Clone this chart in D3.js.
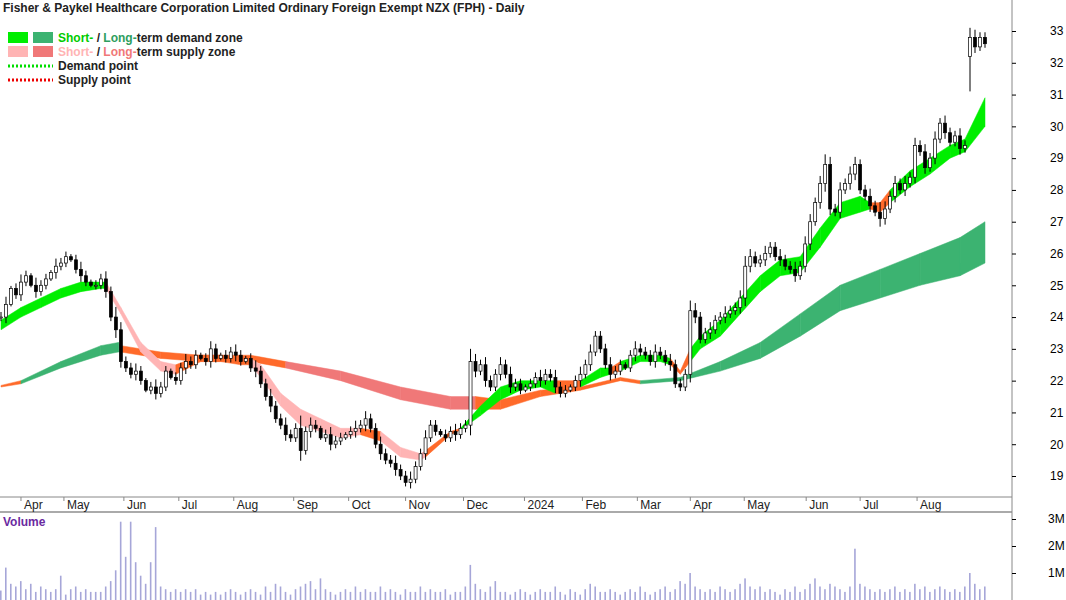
<!DOCTYPE html>
<html><head><meta charset="utf-8">
<script src="https://cdn.jsdelivr.net/npm/d3@7"></script>
<style>body{margin:0;background:#fff}text{font-family:Arial,"Liberation Sans",sans-serif}</style>
</head><body><svg id="c" width="1066" height="600"></svg>
<script>
// closes, one bar every ~2 trading days
var closes = [24.0,24.4,24.9,24.7,25.1,25.3,25.0,24.8,25.0,25.2,25.4,25.6,25.7,25.9,25.8,25.5,25.3,25.1,25.0,25.0,25.2,
 24.8,24.0,23.6,22.6,22.4,22.2,22.3,22.0,21.7,21.8,21.6,21.8,22.3,22.1,22.0,22.4,22.6,22.5,22.8,22.7,
 22.6,23.0,22.7,22.8,22.7,22.9,22.8,22.6,22.7,22.4,22.3,21.9,21.5,21.2,20.8,20.6,20.3,20.2,20.5,19.8,
 20.4,20.6,20.5,20.2,20.3,20.0,20.1,20.2,20.3,20.4,20.5,20.6,20.8,20.5,20.0,19.7,19.5,19.4,19.2,19.0,
 18.8,18.9,19.3,19.7,20.2,20.6,20.4,20.3,20.2,20.4,20.3,20.5,20.6,22.6,22.3,22.5,22.0,21.8,22.2,22.5,
 22.2,21.8,21.9,21.7,21.8,21.9,22.1,22.0,22.2,22.1,21.8,21.6,21.7,21.8,22.0,22.2,22.5,22.9,23.4,23.0,
 22.5,22.2,22.3,22.5,22.4,22.8,23.0,22.9,22.8,22.6,22.9,22.8,22.6,22.5,21.9,21.8,22.2,24.2,24.0,23.3,
 23.5,23.6,23.9,24.0,24.1,24.2,24.3,24.6,25.6,25.9,25.7,25.8,26.0,26.2,25.9,25.8,25.6,25.5,25.3,25.6,
 26.3,27.0,27.6,28.2,28.8,27.4,27.3,28.0,28.2,28.5,28.8,28.0,27.8,27.5,27.3,27.1,27.4,27.8,28.2,28.0,
 28.2,28.4,29.4,29.2,28.7,29.0,29.6,30.1,29.8,29.5,29.7,29.3,29.4,32.8,32.5,32.8,32.6];
var wicks = [2,3,1,2,3,2,1,3,2,2,1,3,2,2,1,2,3,2,1,2,2, 3,2,4,3,2,2,3,2,1,2,3,2,2,1,2,2,3,2,2,1,
 2,3,2,1,2,2,3,2,1,2,3,2,2,3,2,2,3,2,2,5, 2,3,2,1,2,3,2,2,1,2,3,2,3,2,2,3,2,2,3,2,
 2,3,2,2,3,2,2,1,2,2,3,2,2,5,3,2,3,2,2,3, 2,3,2,2,1,2,2,3,2,2,3,2,2,1,2,3,2,3,2,2,
 2,3,2,2,1,2,3,2,2,2,3,2,2,3,2,2,2,4,3,2, 2,3,2,2,3,2,2,3,4,3,2,2,3,2,2,3,2,2,3,2,
 3,3,2,3,4,3,2,3,2,3,3,2,2,3,2,4,3,2,3,2, 3,2,3,2,3,2,3,2,3,2,2,3,2,2,3,2,2];
// gap bar after the August result: [bar index, open, high, low]
var gapBars = [[194,32.2,33.1,31.1]];
var volumes = [0.35,1.2,0.6,0.5,0.7,0.4,0.6,0.3,0.5,0.4,0.3,0.4,0.9,0.2,0.4,0.5,0.3,0.4,0.3,0.3,0.3,
 0.5,0.7,1.1,2.9,1.6,2.9,1.4,0.9,0.6,1.4,2.7,0.5,0.4,0.3,0.4,0.3,0.4,0.3,0.4,0.2,
 0.3,0.2,0.3,0.2,0.3,0.4,0.3,0.2,0.3,0.4,0.3,0.2,0.5,0.3,0.6,0.5,0.3,0.2,0.4,0.5,
 0.6,0.7,0.4,0.8,0.4,0.3,0.2,0.3,0.4,0.3,0.5,0.3,0.4,0.3,0.3,0.5,0.3,0.4,0.3,0.2,
 0.4,0.3,0.3,0.5,0.3,0.4,0.3,0.3,0.4,0.2,0.3,0.3,0.5,1.3,0.6,0.4,0.3,0.5,0.7,0.3,
 0.3,0.2,0.3,0.4,0.3,0.2,0.3,0.4,0.3,0.3,0.5,0.3,0.2,0.4,0.3,0.2,0.4,0.6,0.5,0.3,
 0.3,0.4,0.3,0.2,0.3,0.4,0.3,0.5,0.3,0.2,0.3,0.4,0.5,0.3,0.4,0.7,0.6,1.0,0.5,0.4,
 0.3,0.4,0.3,0.5,0.4,0.3,0.4,0.6,0.8,0.5,0.4,0.5,0.3,0.4,0.3,0.2,0.4,0.3,0.5,0.3,
 0.4,0.6,0.8,0.5,0.4,0.6,0.5,0.4,0.3,0.5,1.9,0.6,0.5,0.4,0.3,0.4,0.3,0.4,0.5,0.3,
 0.4,0.3,0.6,0.4,0.5,0.3,0.4,0.5,0.4,0.3,0.4,0.3,0.5,1.0,0.6,0.4,0.5];
// zone samples: [bar index, upper, lower, type]
var shortZone = [[0,23.9,23.6,"d"],[4,24.3,24.0,"d"],[8,24.6,24.3,"d"],[12,24.9,24.6,"d"],[16,25.1,24.8,"d"],[20,25.1,24.9,"d"],
 [21,25.1,24.9,"s"],[24,24.3,24.1,"s"],[28,23.2,22.9,"s"],[32,22.6,22.3,"s"],[35,22.5,22.2,"o"],[40,22.8,22.6,"o"],[44,22.8,22.6,"o"],
 [48,22.7,22.5,"o"],[50,22.7,22.5,"s"],[52,22.5,22.1,"s"],[56,21.6,21.2,"s"],[60,21.1,20.6,"s"],[64,20.8,20.4,"s"],[68,20.5,20.2,"s"],
 [72,20.5,20.3,"o"],[76,20.4,20.1,"s"],[80,19.9,19.6,"s"],[84,19.7,19.5,"s"],[85,19.8,19.6,"o"],[90,20.4,20.3,"o"],[92,20.5,20.45,"d"],
 [96,21.2,20.9,"d"],[100,21.8,21.4,"d"],[104,22.0,21.7,"d"],[108,22.0,21.8,"d"],[111,22.0,21.6,"o"],[116,22.0,21.8,"d"],[120,22.4,22.1,"d"],
 [122,22.4,22.2,"o"],[124,22.6,22.3,"d"],[128,22.8,22.6,"d"],[132,22.8,22.6,"d"],[134,22.7,22.5,"o"],[136,22.3,22.2,"o"],[138,23.0,22.6,"d"],
 [140,23.4,23.0,"d"],[144,23.9,23.4,"d"],[148,24.6,24.1,"d"],[152,25.3,24.8,"d"],[156,25.8,25.3,"d"],[160,25.9,25.4,"d"],[164,26.8,26.2,"d"],
 [168,27.6,27.1,"d"],[172,27.8,27.3,"d"],[174,27.6,27.4,"o"],[176,27.6,27.3,"o"],[178,28.0,27.6,"d"],[182,28.6,28.1,"d"],[186,29.0,28.5,"d"],
 [190,29.4,29.0,"d"],[193,29.6,29.2,"d"],[197,30.9,30.0,"d"]];
var longZone = [[0,21.85,21.8,"o"],[4,22.0,21.9,"d"],[12,22.6,22.4,"d"],[20,23.1,22.8,"d"],[23.5,23.2,22.9,"d"],[24,23.1,22.9,"o"],
 [32,22.9,22.7,"o"],[40,22.8,22.6,"o"],[50,22.8,22.6,"o"],[57,22.6,22.4,"s"],[68,22.3,22.0,"s"],[80,21.8,21.4,"s"],[90,21.5,21.1,"s"],
 [95,21.5,21.1,"o"],[100,21.4,21.1,"o"],[108,21.7,21.5,"o"],[116,21.8,21.7,"o"],[124,22.1,22.0,"o"],[128,22.0,21.9,"d"],[136,22.1,22.0,"d"],
 [144,22.6,22.3,"d"],[152,23.2,22.7,"d"],[160,24.1,23.4,"d"],[168,25.0,24.2,"d"],[176,25.5,24.6,"d"],[184,26.0,25.0,"d"],[192,26.5,25.3,"d"],[197,27.0,25.7,"d"]];
var monthTicks = [4,12.6,24.6,35.6,46.6,58.6,69.6,81,92.6,104.8,116.4,127.4,138,148.8,161.2,172,183.4];
var monthLabels = ["Apr","May","Jun","Jul","Aug","Sep","Oct","Nov","Dec","2024","Feb","Mar","Apr","May","Jun","Jul","Aug"];
var priceTicks = [19,20,21,22,23,24,25,26,27,28,29,30,31,32,33];
var volTicks = [1,2,3];

var svg = d3.select("#c");
var x = d3.scaleLinear().domain([0,197]).range([1,985]);
var y = d3.scaleLinear().domain([19,33]).range([476,31]);
var yv = d3.scaleLinear().domain([0,3]).range([600,519]);

// zones
function drawZone(z, col) {
  for (var i = 0; i < z.length-1; i++) {
    var seg = [z[i], z[i+1]];
    svg.append("path").datum(seg)
      .attr("d", d3.area().x(function(d){return x(d[0]);}).y0(function(d){return y(d[2]);}).y1(function(d){return y(d[1]);}))
      .attr("fill", col[z[i][3]]).attr("stroke", col[z[i][3]]).attr("stroke-width", 0.5);
  }
}
drawZone(longZone, {d:"#3cb371", s:"#f07878", o:"#ff6a2a"});
drawZone(shortZone, {d:"#00ee00", s:"#ffb4b4", o:"#ff6a2a"});

// bars
var bars = closes.map(function(c,i){
  var o = i ? closes[i-1] : c;
  var w = wicks[i]*0.08;
  return {i:i, o:o, c:c, h:Math.max(o,c)+w, l:Math.min(o,c)-w*0.8};
});
gapBars.forEach(function(gb){ var b = bars[gb[0]]; b.o = gb[1]; b.h = gb[2]; b.l = gb[3]; });
var g = svg.append("g");
bars.forEach(function(b){
  g.append("line").attr("x1",x(b.i)).attr("x2",x(b.i)).attr("y1",y(b.h)).attr("y2",y(b.l)).attr("stroke","#000").attr("stroke-width",1);
  var top = y(Math.max(b.o,b.c)), bot = y(Math.min(b.o,b.c));
  g.append("rect").attr("x",x(b.i)-1.5).attr("y",top).attr("width",3).attr("height",Math.max(1,bot-top))
    .attr("fill", b.c >= b.o ? "#fff" : "#000").attr("stroke","#000").attr("stroke-width",0.7);
});

// panel frames
svg.append("line").attr("x1",0).attr("x2",1012).attr("y1",497).attr("y2",497).attr("stroke","#888");
svg.append("line").attr("x1",0).attr("x2",1012).attr("y1",512).attr("y2",512).attr("stroke","#aaa").attr("stroke-width",2);
svg.append("line").attr("x1",1012).attr("x2",1012).attr("y1",0).attr("y2",600).attr("stroke","#888");

// right price axis
svg.append("g").attr("transform","translate(1012,0)")
  .call(d3.axisRight(y).tickValues(priceTicks).tickSize(4).tickFormat(d3.format("d")))
  .call(function(a){a.select(".domain").remove(); a.selectAll("text").attr("x",38).attr("font-size",12).attr("font-family","Arial");});
svg.append("g").attr("transform","translate(1012,0)")
  .call(d3.axisRight(yv).tickValues(volTicks).tickSize(4).tickFormat(function(d){return d+"M";}))
  .call(function(a){a.select(".domain").remove(); a.selectAll("text").attr("x",36).attr("font-size",12).attr("font-family","Arial");});

// month axis
monthTicks.forEach(function(t,i){
  svg.append("line").attr("x1",x(t)).attr("x2",x(t)).attr("y1",497).attr("y2",501).attr("stroke","#888");
  svg.append("text").attr("x",x(t)+3).attr("y",509).attr("font-size",12).attr("fill","#222").text(monthLabels[i]);
});

// volume
svg.selectAll(".v").data(volumes).enter().append("rect")
  .attr("x",function(d,i){return x(i)-1;}).attr("width",1.6)
  .attr("y",function(d){return yv(d);}).attr("height",function(d){return 600-yv(d);})
  .attr("fill","#a6a6d8");
svg.append("text").attr("x",3).attr("y",526).attr("font-size",12).attr("font-weight","bold").attr("fill","#6a2aa0").text("Volume");

// title and legend
svg.append("text").attr("x",3).attr("y",12).attr("font-size",12).attr("font-weight","bold").attr("fill","#222")
  .text("Fisher & Paykel Healthcare Corporation Limited Ordinary Foreign Exempt NZX (FPH) - Daily");
var leg = [["#00ee00","#3cb371","#00cc00","#2e9e5e","demand zone"],["#ffb4b4","#f07878","#ffb4b4","#f07878","supply zone"]];
leg.forEach(function(l,i){
  var yy = 32 + i*14;
  svg.append("rect").attr("x",8).attr("y",yy).attr("width",20).attr("height",11).attr("fill",l[0]);
  svg.append("rect").attr("x",33).attr("y",yy).attr("width",20).attr("height",11).attr("fill",l[1]);
  var t = svg.append("text").attr("x",58).attr("y",yy+10).attr("font-size",12).attr("font-weight","bold");
  t.append("tspan").attr("fill",l[2]).text("Short-");
  t.append("tspan").attr("fill","#222").text(" / ");
  t.append("tspan").attr("fill",l[3]).text("Long-");
  t.append("tspan").attr("fill","#222").text("term " + l[4]);
});
[["#00dd00","Demand point"],["#ee0000","Supply point"]].forEach(function(l,i){
  var yy = 66 + i*14;
  svg.append("line").attr("x1",8).attr("x2",53).attr("y1",yy).attr("y2",yy).attr("stroke",l[0]).attr("stroke-width",3).attr("stroke-dasharray","2,2");
  svg.append("text").attr("x",58).attr("y",yy+4).attr("font-size",12).attr("font-weight","bold").attr("fill","#222").text(l[1]);
});
</script></body></html>
